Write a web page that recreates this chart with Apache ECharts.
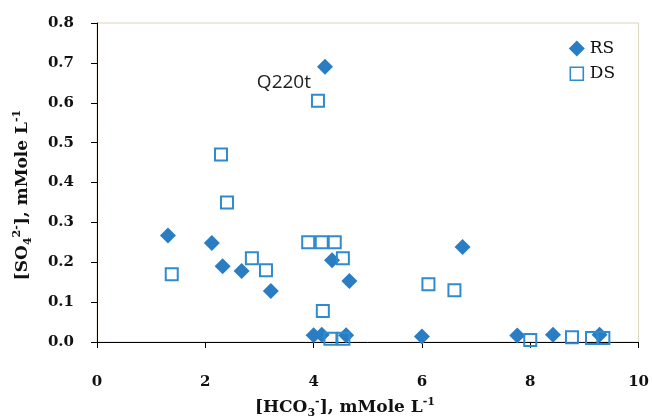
<!DOCTYPE html>
<html>
<head>
<meta charset="utf-8">
<script src="https://cdn.jsdelivr.net/npm/echarts@6/dist/echarts.min.js"></script>
<style>html,body{margin:0;padding:0;background:#fff}#c{width:652px;height:418px}</style>
</head>
<body>
<div id="c"></div>
<script>
var rsX = [1.31, 2.12, 2.32, 2.67, 3.21, 4.21, 4.34, 4.66, 6.75, 4.00, 4.15, 4.60, 6.00, 7.76, 8.42, 9.28];
var rsY = [0.267, 0.248, 0.19, 0.178, 0.128, 0.69, 0.205, 0.153, 0.238, 0.017, 0.018, 0.017, 0.014, 0.016, 0.018, 0.018];
var dsX = [1.38, 2.29, 2.40, 2.86, 3.12, 4.08, 3.90, 4.15, 4.39, 4.54, 6.12, 6.60, 4.17, 4.31, 4.55, 8.00, 8.77, 9.14, 9.35];
var dsY = [0.17, 0.47, 0.35, 0.21, 0.18, 0.605, 0.25, 0.25, 0.25, 0.21, 0.145, 0.13, 0.078, 0.008, 0.008, 0.005, 0.012, 0.01, 0.01];
var xTicks = [0, 2, 4, 6, 8, 10];
var yTicks = [0.0, 0.1, 0.2, 0.3, 0.4, 0.5, 0.6, 0.7, 0.8];
var labelPoint = 'Q220t';

var rsData = rsX.map(function (x, i) {
  var d = { value: [x, rsY[i]] };
  if (i === 5) {
    d.label = { show: true, formatter: labelPoint, position: 'left', distance: 6, offset: [0, 16],
      fontFamily: 'Open Sans', fontSize: 19, color: '#222' };
  }
  return d;
});
var dsData = dsX.map(function (x, i) { return [x, dsY[i]]; });

var serif = 'DejaVu Serif';
var richStyle = {
  a: { fontFamily: serif, fontWeight: 'bold', fontSize: 17, lineHeight: 22, fill: '#111' },
  sub: { fontFamily: serif, fontWeight: 'bold', fontSize: 11, verticalAlign: 'bottom', lineHeight: 22, fill: '#111' },
  sup: { fontFamily: serif, fontWeight: 'bold', fontSize: 11, verticalAlign: 'top', lineHeight: 22, fill: '#111' }
};
var chart = echarts.init(document.getElementById('c'));
chart.setOption({
  animation: false,
  grid: { left: 97, top: 23, right: 10, bottom: 76, show: true, borderColor: '#dcd6bc', borderWidth: 1 },
  xAxis: {
    type: 'value', min: xTicks[0], max: xTicks[xTicks.length - 1], interval: 2,
    axisLine: { show: true, lineStyle: { color: '#000', width: 1 } },
    axisTick: { show: true, length: 6, lineStyle: { color: '#000' } },
    splitLine: { show: false },
    axisLabel: { margin: 33, fontFamily: serif, fontWeight: 'bold', fontSize: 15, color: '#111' }
  },
  yAxis: {
    type: 'value', min: yTicks[0], max: yTicks[yTicks.length - 1], interval: 0.1,
    axisLine: { show: true, lineStyle: { color: '#000', width: 1 } },
    axisTick: { show: true, length: 6, lineStyle: { color: '#000' } },
    splitLine: { show: false },
    axisLabel: { margin: 23, fontFamily: serif, fontWeight: 'bold', fontSize: 15, color: '#111',
      formatter: function (v) { return v.toFixed(1); } }
  },
  legend: {
    orient: 'vertical', left: 568, top: 40, padding: 0, itemWidth: 16, itemHeight: 16, itemGap: 8,
    textStyle: { fontFamily: serif, fontSize: 17, color: '#111' },
    data: [
      { name: 'RS', icon: 'diamond' },
      { name: 'DS', icon: 'path://M0,0M16,16M1.5,1.5L14.5,1.5L14.5,14.5L1.5,14.5Z',
        itemStyle: { borderWidth: 1.6, color: 'rgba(255,255,255,0)', borderColor: '#2e8bd0' } }
    ]
  },
  graphic: [
    {
      type: 'text', x: 345, y: 408,
      style: {
        text: '{a|[HCO}{sub|3}{sup|-}{a|], mMole L}{sup|-1}',
        align: 'center', verticalAlign: 'middle', rich: richStyle
      }
    },
    {
      type: 'text', x: 23, y: 195, rotation: Math.PI / 2,
      style: {
        text: '{a|[SO}{sub|4}{sup|2-}{a|], mMole L}{sup|-1}',
        align: 'center', verticalAlign: 'middle', rich: richStyle
      }
    }
  ],
  series: [
    {
      name: 'RS', type: 'scatter', symbol: 'diamond', symbolSize: [16, 16],
      itemStyle: { color: '#2a7dc2', opacity: 1 },
      data: rsData
    },
    {
      name: 'DS', type: 'scatter', symbol: 'rect', symbolSize: [12, 12],
      itemStyle: { color: 'rgba(255,255,255,0)', borderColor: '#2e8bd0', borderWidth: 2, opacity: 1 },
      data: dsData
    }
  ]
});
</script>
</body>
</html>
